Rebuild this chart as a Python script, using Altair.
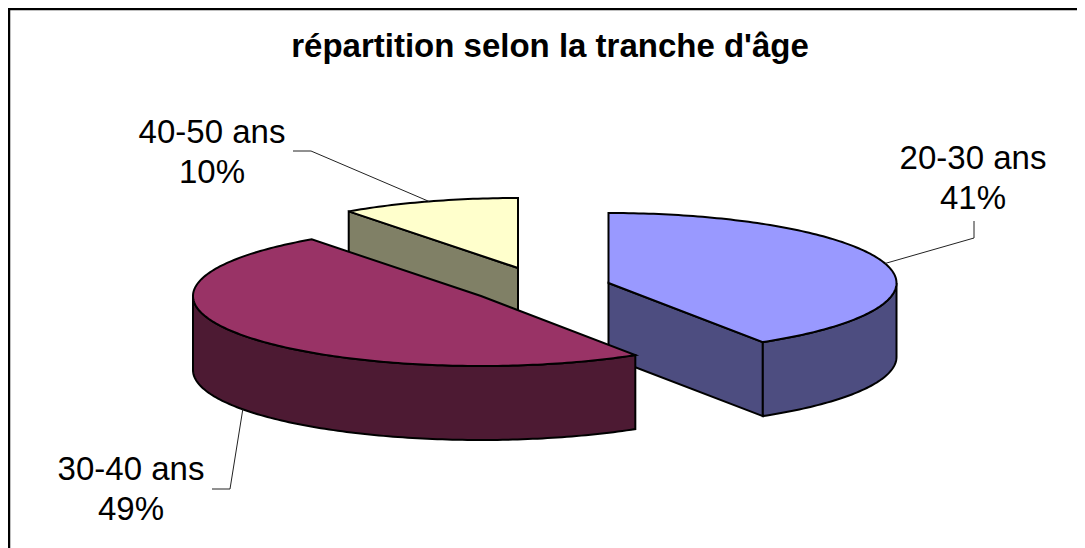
import math
import altair as alt
import pandas as pd

TITLE = "répartition selon la tranche d'âge"
categories = ["20-30 ans", "30-40 ans", "40-50 ans"]
shares = [41, 49, 10]
top_colors = ["#9999FF", "#993366", "#FFFFCC"]
wall_colors = ["#4D4D80", "#4D1A33", "#808066"]

# layout of the pseudo-3D pie, in page pixels
RX, RY, DEPTH = 288, 70, 74
apexes = [(608.5, 283), (481, 296), (518, 268)]
label_x = [973, 131, 212]
label_y = [169, 480, 143]
line_gap = 40
knees = [[(974, 221), (974, 238)], [(212, 489), (230, 489)], [(293, 151), (311, 151)]]
FONT = "Liberation Sans"

X = alt.X("x:Q", axis=None, scale=alt.Scale(domain=[8, 1077], nice=False, zero=False))
Y = alt.Y("y:Q", axis=None, scale=alt.Scale(domain=[548, 8], nice=False, zero=False))


def rim(i, deg, dy=0):
    a = math.radians(deg)
    return apexes[i][0] + RX * math.sin(a), apexes[i][1] - RY * math.cos(a) + dy


def arc(i, a0, a1, dy=0):
    n = max(2, int(abs(a1 - a0)) + 1)
    return [rim(i, a0 + (a1 - a0) * k / (n - 1), dy) for k in range(n)]


def poly(points, fill):
    df = pd.DataFrame(points, columns=["x", "y"])
    df["i"] = range(len(df))
    return alt.Chart(df).mark_line(
        interpolate="linear-closed", fill=fill, stroke="black", strokeWidth=2, clip=False
    ).encode(x=X, y=Y, order=alt.Order("i:Q"))


def path(points, width=1, color="#222222"):
    df = pd.DataFrame(points, columns=["x", "y"])
    df["i"] = range(len(df))
    return alt.Chart(df).mark_line(stroke=color, strokeWidth=width).encode(
        x=X, y=Y, order=alt.Order("i:Q")
    )


starts = []
acc = 0.0
for s in shares:
    starts.append(acc)
    acc += s * 3.6
ends = [st + s * 3.6 for st, s in zip(starts, shares)]

layers = []
# frame: only the top and left edges are visible
layers.append(path([(9, 548), (9, 9), (1077, 9)], width=2.5, color="black"))

# slice 3 (back)
i = 2
ax, ay = apexes[i]
a = rim(i, starts[i])
layers.append(poly([a, (ax, ay), (ax, ay + DEPTH), (a[0], a[1] + DEPTH)], wall_colors[i]))
layers.append(poly([(ax, ay)] + arc(i, starts[i], ends[i]), top_colors[i]))

# slice 1 (right)
i = 0
ax, ay = apexes[i]
b = rim(i, ends[i])
layers.append(poly([(ax, ay), b, (b[0], b[1] + DEPTH), (ax, ay + DEPTH)], wall_colors[i]))
layers.append(poly(arc(i, 90, ends[i]) + arc(i, ends[i], 90, DEPTH), wall_colors[i]))
layers.append(poly([(ax, ay)] + arc(i, starts[i], ends[i]), top_colors[i]))

# slice 2 (front)
i = 1
ax, ay = apexes[i]
layers.append(poly(arc(i, starts[i], 270) + arc(i, 270, starts[i], DEPTH), wall_colors[i]))
layers.append(poly([(ax, ay)] + arc(i, starts[i], ends[i]), top_colors[i]))

# leader lines
for i in range(3):
    mid = (starts[i] + ends[i]) / 2
    dy = DEPTH if 90 < mid < 270 else 0
    layers.append(path(knees[i] + [rim(i, mid, dy)]))

# labels
rows = []
for i in range(3):
    rows.append({"x": label_x[i], "y": label_y[i], "t": categories[i]})
    rows.append({"x": label_x[i], "y": label_y[i] + line_gap, "t": f"{shares[i]}%"})
layers.append(
    alt.Chart(pd.DataFrame(rows)).mark_text(
        font=FONT, fontSize=33, align="center", baseline="alphabetic", color="black"
    ).encode(x=X, y=Y, text="t:N")
)
layers.append(
    alt.Chart(pd.DataFrame([{"x": 550, "y": 57, "t": TITLE}])).mark_text(
        font=FONT, fontSize=33, fontWeight="bold", align="center", baseline="alphabetic", color="black"
    ).encode(x=X, y=Y, text="t:N")
)

chart = alt.layer(*layers).properties(
    width=1069, height=540, padding=0, autosize=alt.AutoSizeParams(type="none"), background="white"
).configure_view(stroke=None)

chart.save("out.html", embed_options={"renderer": "svg", "actions": False})
